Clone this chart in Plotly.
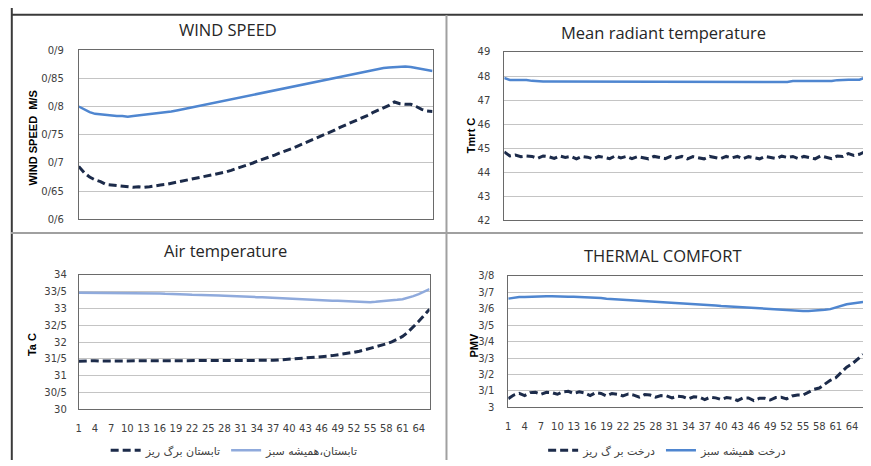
import plotly.graph_objects as go

# ---------------- data ----------------
x_idx = list(range(1, 67))
x_ticks = list(range(1, 67, 3))

wind_evergreen = [0.800, 0.795, 0.790, 0.787, 0.786, 0.784, 0.784, 0.783, 0.783, 0.782,
                  0.783, 0.784, 0.785, 0.786, 0.787, 0.788, 0.789, 0.791, 0.793, 0.795,
                  0.796, 0.798, 0.800, 0.802, 0.804, 0.806, 0.808, 0.810, 0.812, 0.814,
                  0.816, 0.818, 0.820, 0.822, 0.824, 0.826, 0.828, 0.830, 0.832, 0.834,
                  0.836, 0.838, 0.840, 0.843, 0.845, 0.847, 0.849, 0.851, 0.853, 0.855,
                  0.857, 0.859, 0.861, 0.863, 0.865, 0.867, 0.868, 0.869, 0.870, 0.871,
                  0.871, 0.870, 0.868, 0.866, 0.864, 0.863]
wind_deciduous = [0.694, 0.683, 0.675, 0.670, 0.667, 0.662, 0.661, 0.660, 0.658, 0.657,
                  0.657, 0.658, 0.657, 0.658, 0.660, 0.661, 0.662, 0.664, 0.666, 0.667,
                  0.669, 0.671, 0.673, 0.675, 0.677, 0.679, 0.682, 0.684, 0.687, 0.690,
                  0.693, 0.697, 0.700, 0.704, 0.707, 0.710, 0.714, 0.718, 0.721, 0.725,
                  0.729, 0.733, 0.737, 0.741, 0.745, 0.750, 0.754, 0.758, 0.763, 0.767,
                  0.772, 0.776, 0.780, 0.784, 0.789, 0.793, 0.797, 0.802, 0.808, 0.805,
                  0.804, 0.804, 0.800, 0.795, 0.792, 0.791]

tmrt_evergreen = [47.92, 47.84, 47.84, 47.84, 47.84, 47.80, 47.77, 47.77, 47.77, 47.77,
                  47.77, 47.77, 47.77, 47.77, 47.77, 47.75, 47.75, 47.75, 47.75, 47.75,
                  47.75, 47.75, 47.75, 47.75, 47.75, 47.75, 47.75, 47.75, 47.75, 47.75,
                  47.75, 47.75, 47.75, 47.75, 47.75, 47.75, 47.75, 47.75, 47.75, 47.75,
                  47.75, 47.75, 47.75, 47.75, 47.75, 47.75, 47.75, 47.75, 47.75, 47.75,
                  47.75, 47.75, 47.79, 47.79, 47.79, 47.79, 47.79, 47.79, 47.79, 47.79,
                  47.83, 47.85, 47.85, 47.85, 47.85, 47.93]
tmrt_deciduous = [44.85, 44.68, 44.72, 44.65, 44.68, 44.66, 44.58, 44.68, 44.65, 44.58,
                  44.68, 44.62, 44.66, 44.56, 44.66, 44.63, 44.56, 44.66, 44.62, 44.57,
                  44.68, 44.60, 44.66, 44.57, 44.65, 44.62, 44.56, 44.66, 44.62, 44.57,
                  44.66, 44.60, 44.66, 44.56, 44.65, 44.62, 44.56, 44.66, 44.62, 44.57,
                  44.66, 44.60, 44.66, 44.56, 44.65, 44.62, 44.56, 44.66, 44.62, 44.57,
                  44.67, 44.62, 44.66, 44.57, 44.66, 44.62, 44.56, 44.68, 44.64, 44.57,
                  44.68, 44.66, 44.78, 44.70, 44.75, 44.86]

air_evergreen = [33.47, 33.47, 33.47, 33.47, 33.47, 33.47, 33.47, 33.47, 33.47, 33.47,
                 33.47, 33.47, 33.46, 33.46, 33.45, 33.45, 33.44, 33.44, 33.43, 33.42,
                 33.42, 33.41, 33.41, 33.40, 33.40, 33.39, 33.39, 33.38, 33.37, 33.37,
                 33.36, 33.35, 33.35, 33.34, 33.34, 33.33, 33.32, 33.32, 33.31, 33.30,
                 33.29, 33.28, 33.28, 33.27, 33.26, 33.25, 33.24, 33.23, 33.23, 33.22,
                 33.21, 33.20, 33.20, 33.19, 33.19, 33.20, 33.21, 33.22, 33.24, 33.26,
                 33.28, 33.32, 33.37, 33.43, 33.50, 33.58]
air_deciduous = [31.43, 31.44, 31.44, 31.45, 31.44, 31.44, 31.45, 31.44, 31.44, 31.45,
                 31.45, 31.44, 31.45, 31.45, 31.44, 31.44, 31.45, 31.45, 31.44, 31.44,
                 31.45, 31.45, 31.45, 31.45, 31.45, 31.45, 31.45, 31.45, 31.45, 31.45,
                 31.45, 31.45, 31.45, 31.45, 31.45, 31.45, 31.46, 31.47, 31.48, 31.49,
                 31.50, 31.51, 31.52, 31.53, 31.54, 31.56, 31.58, 31.60, 31.62, 31.64,
                 31.67, 31.70, 31.73, 31.77, 31.81, 31.86, 31.90, 31.95, 32.01, 32.08,
                 32.17, 32.30, 32.45, 32.62, 32.80, 32.98]

pmv_evergreen = [3.662, 3.668, 3.672, 3.672, 3.674, 3.672, 3.676, 3.677, 3.676, 3.674,
                 3.674, 3.674, 3.673, 3.672, 3.670, 3.670, 3.669, 3.666, 3.662, 3.660,
                 3.659, 3.657, 3.655, 3.654, 3.652, 3.650, 3.648, 3.646, 3.644, 3.642,
                 3.640, 3.637, 3.634, 3.632, 3.630, 3.628, 3.625, 3.623, 3.620, 3.617,
                 3.615, 3.612, 3.610, 3.607, 3.604, 3.602, 3.599, 3.597, 3.595, 3.593,
                 3.591, 3.589, 3.588, 3.588, 3.587, 3.587, 3.588, 3.591, 3.594, 3.598,
                 3.608, 3.617, 3.628, 3.633, 3.638, 3.642]
pmv_deciduous = [3.053, 3.075, 3.085, 3.072, 3.090, 3.092, 3.080, 3.092, 3.090, 3.080,
                 3.095, 3.098, 3.085, 3.095, 3.088, 3.072, 3.090, 3.085, 3.070, 3.085,
                 3.080, 3.070, 3.082, 3.075, 3.062, 3.078, 3.075, 3.062, 3.072, 3.070,
                 3.058, 3.068, 3.065, 3.052, 3.065, 3.062, 3.048, 3.062, 3.058, 3.048,
                 3.060, 3.055, 3.042, 3.058, 3.058, 3.042, 3.055, 3.055, 3.045, 3.060,
                 3.062, 3.052, 3.070, 3.075, 3.075, 3.092, 3.110, 3.118, 3.140, 3.165,
                 3.180, 3.215, 3.245, 3.265, 3.295, 3.322]

wind_ticks = [0.6, 0.65, 0.7, 0.75, 0.8, 0.85, 0.9]
wind_ticktext = ["0/6", "0/65", "0/7", "0/75", "0/8", "0/85", "0/9"]
tmrt_ticks = [42, 43, 44, 45, 46, 47, 48, 49]
tmrt_ticktext = ["42", "43", "44", "45", "46", "47", "48", "49"]
air_ticks = [30, 30.5, 31, 31.5, 32, 32.5, 33, 33.5, 34]
air_ticktext = ["30", "30/5", "31", "31/5", "32", "32/5", "33", "33/5", "34"]
pmv_ticks = [3.0, 3.1, 3.2, 3.3, 3.4, 3.5, 3.6, 3.7, 3.8]
pmv_ticktext = ["3", "3/1", "3/2", "3/3", "3/4", "3/5", "3/6", "3/7", "3/8"]

for arr in [wind_evergreen, wind_deciduous, tmrt_evergreen, tmrt_deciduous,
            air_evergreen, air_deciduous, pmv_evergreen, pmv_deciduous]:
    assert len(arr) == 66, len(arr)

# ---------------- styling ----------------
# page body has an 8px default margin; figure sized to fill the rest of the window
OFF = 8
FW, FH = 871 - OFF, 466 - OFF
def px(x): return (x - OFF) / FW          # screen px -> paper x
def py(y): return 1 - (y - OFF) / FH      # screen px -> paper y

BLUE = "#4F86D0"
LIGHTBLUE = "#8FAADC"
NAVY = "#1C2B4A"
DASH = "8px,4px"
tickfont = dict(family="DejaVu Sans", size=10, color="#404040")

fig = go.Figure()

def add_pair(xa, ya, dec, ever, dec_name, ever_name, ever_color, legend, show):
    fig.add_trace(go.Scatter(x=x_idx, y=dec, xaxis=xa, yaxis=ya, mode="lines",
                             name=dec_name, legend=legend, showlegend=show,
                             line=dict(color=NAVY, width=3, dash=DASH)))
    fig.add_trace(go.Scatter(x=x_idx, y=ever, xaxis=xa, yaxis=ya, mode="lines",
                             name=ever_name, legend=legend, showlegend=show,
                             line=dict(color=ever_color, width=2.5)))

add_pair("x", "y", wind_deciduous, wind_evergreen, "a", "b", BLUE, "legend", False)
add_pair("x2", "y2", tmrt_deciduous, tmrt_evergreen, "a", "b", BLUE, "legend", False)
add_pair("x3", "y3", air_deciduous, air_evergreen, "تابستان برگ ریز", "تابستان،همیشه سبز",
         LIGHTBLUE, "legend", True)
add_pair("x4", "y4", pmv_deciduous, pmv_evergreen, "درخت بر گ ریز", "درخت همیشه سبز",
         BLUE, "legend2", True)

def xax(x0, x1, anchor, labels):
    return dict(domain=[px(x0), px(x1)], anchor=anchor, range=[1, 66],
                tickmode="array", tickvals=x_ticks, ticktext=[str(t) for t in x_ticks],
                showticklabels=labels, showgrid=False, zeroline=False,
                showline=True, mirror=True, linecolor="#6a6a6a", linewidth=1,
                ticks="", tickfont=tickfont, ticklabelstandoff=10, fixedrange=True)

def yax(y0, y1, anchor, rng, tv, tt, standoff):
    return dict(domain=[py(y1), py(y0)], anchor=anchor, range=rng,
                tickmode="array", tickvals=tv, ticktext=tt,
                showgrid=True, gridcolor="#C4C4C4", gridwidth=1, zeroline=False,
                showline=True, mirror=True, linecolor="#6a6a6a", linewidth=1,
                ticks="", tickfont=tickfont, ticklabelstandoff=standoff, fixedrange=True)

legfont = dict(family="DejaVu Sans", size=11, color="#404040")
fig.update_layout(
    width=FW, height=FH, margin=dict(l=0, r=0, t=0, b=0),
    paper_bgcolor="white", plot_bgcolor="white",
    xaxis=xax(76, 431, "y", False),
    yaxis=yax(45, 219, "x", [0.6, 0.9], wind_ticks, wind_ticktext, 12),
    xaxis2=xax(503, 865, "y2", False),
    yaxis2=yax(47, 220, "x2", [42, 49], tmrt_ticks, tmrt_ticktext, 11),
    xaxis3=xax(76, 428, "y3", True),
    yaxis3=yax(276, 414, "x3", [30, 34], air_ticks, air_ticktext, 9),
    xaxis4=xax(507, 863, "y4", True),
    yaxis4=yax(277, 412, "x4", [3.0, 3.8], pmv_ticks, pmv_ticktext, 11),
    legend=dict(orientation="h", x=px(103), xanchor="left", y=py(456), yanchor="middle",
                font=legfont, bgcolor="rgba(0,0,0,0)", itemwidth=30, traceorder="normal"),
    legend2=dict(orientation="h", x=px(542), xanchor="left", y=py(456), yanchor="middle",
                 font=legfont, bgcolor="rgba(0,0,0,0)", itemwidth=30, traceorder="normal"),
    showlegend=True,
)

titles = [("WIND SPEED", 226, 24), ("Mean radiant temperature", 663, 27),
          ("Air temperature", 223, 251), ("THERMAL COMFORT", 662, 256)]
for t, x, y in titles:
    fig.add_annotation(text=t, x=px(x), y=py(y), xref="paper", yref="paper",
                       showarrow=False, xanchor="center", yanchor="middle",
                       font=dict(family="Open Sans", size=16.5, color="#262626"))

ytitles = [("WIND SPEED  M/S", 30, 135), ("Tmrt C", 469, 132),
           ("Ta C", 29, 347), ("PMV", 473, 348)]
for t, x, y in ytitles:
    fig.add_annotation(text="<b>" + t + "</b>", x=px(x), y=py(y), xref="paper", yref="paper",
                       showarrow=False, xanchor="center", yanchor="middle", textangle=-90,
                       font=dict(family="Liberation Sans", size=11, color="#000000"))

# panel frame lines
frame = [
    (8.8, 0, 8.8, 466, "#3a3a3a", 2),
    (8, 8.8, 871, 8.8, "#3a3a3a", 2),
    (445, 9, 445, 466, "#a0a0a0", 2),
    (8, 233, 871, 233, "#a0a0a0", 2),
]
for x0, y0, x1, y1, c, w in frame:
    fig.add_shape(type="line", xref="paper", yref="paper",
                  x0=px(x0), y0=py(y0), x1=px(x1), y1=py(y1),
                  line=dict(color=c, width=w))

fig.write_html("out.html")
